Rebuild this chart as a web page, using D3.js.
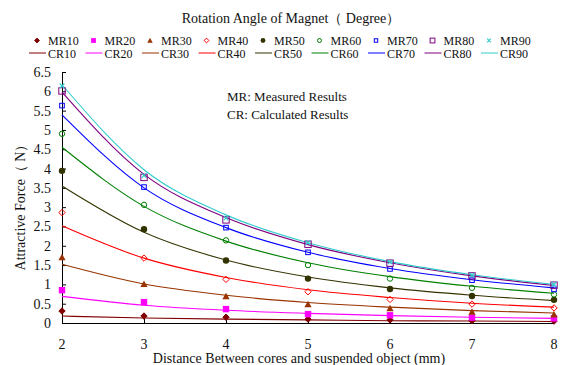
<!DOCTYPE html>
<html>
<head>
<meta charset="utf-8">
<script src="https://cdn.jsdelivr.net/npm/d3@7"></script>
<style>
body { margin: 0; background: #fff; }
svg text { font-family: "Liberation Serif", "Times New Roman", Times, serif; fill: #111; }
</style>
</head>
<body>
<div id="chart"></div>
<script>
var width = 562;
var height = 365;
var margin = { top: 72, right: 8, bottom: 42, left: 62 };

// distances (mm)
var distances = [2, 3, 4, 5, 6, 7, 8];
var angles = ["10", "20", "30", "40", "50", "60", "70", "80", "90"];
var colors = ["#800000", "#ff00ff", "#993300", "#ff0000", "#333300", "#008000", "#0000ff", "#800080", "#33cccc"];
var markerShapes = ["diamond", "square", "triangle", "diamondOpen", "circle", "circleOpen", "squareOpen", "squareOpenBig", "cross"];

// measured results
var mr10 = [0.31, 0.18, 0.15, 0.10, 0.08, 0.06, 0.05];
var mr20 = [0.85, 0.54, 0.36, 0.23, 0.20, 0.14, 0.12];
var mr30 = [1.70, 1.01, 0.69, 0.48, 0.38, 0.29, 0.22];
var mr40 = [2.86, 1.68, 1.13, 0.81, 0.61, 0.49, 0.39];
var mr50 = [3.94, 2.43, 1.62, 1.15, 0.88, 0.70, 0.60];
var mr60 = [4.90, 3.06, 2.14, 1.50, 1.15, 0.91, 0.74];
var mr70 = [5.63, 3.52, 2.47, 1.83, 1.40, 1.11, 0.87];
var mr80 = [6.01, 3.77, 2.67, 2.04, 1.55, 1.22, 0.98];
var mr90 = [6.14, 3.82, 2.72, 2.08, 1.58, 1.24, 1.00];

// calculated results
var cr10 = [0.18, 0.13, 0.10, 0.08, 0.06, 0.05, 0.04];
var cr20 = [0.69, 0.46, 0.33, 0.25, 0.19, 0.15, 0.12];
var cr30 = [1.52, 1.01, 0.72, 0.53, 0.41, 0.32, 0.26];
var cr40 = [2.52, 1.68, 1.18, 0.86, 0.66, 0.51, 0.41];
var cr50 = [3.55, 2.35, 1.63, 1.19, 0.91, 0.72, 0.58];
var cr60 = [4.55, 3.02, 2.12, 1.56, 1.20, 0.95, 0.77];
var cr70 = [5.39, 3.50, 2.47, 1.83, 1.41, 1.12, 0.91];
var cr80 = [5.98, 3.85, 2.73, 2.03, 1.56, 1.22, 0.97];
var cr90 = [6.17, 3.97, 2.80, 2.08, 1.59, 1.25, 1.00];

var measured = [mr10, mr20, mr30, mr40, mr50, mr60, mr70, mr80, mr90];
var calculated = [cr10, cr20, cr30, cr40, cr50, cr60, cr70, cr80, cr90];

var yTicks = [0, 0.5, 1, 1.5, 2, 2.5, 3, 3.5, 4, 4.5, 5, 5.5, 6, 6.5];

var x = d3.scaleLinear().domain([2, 8]).range([margin.left, width - margin.right]);
var y = d3.scaleLinear().domain([0, 6.5]).range([height - margin.bottom, margin.top]);

var serif = "'Liberation Serif', 'Times New Roman', serif";

var svg = d3.select("#chart").append("svg")
    .attr("width", width)
    .attr("height", height)
    .attr("font-family", serif);

// title
svg.append("text")
    .attr("x", 291)
    .attr("y", 23)
    .attr("text-anchor", "middle")
    .attr("font-family", serif)
    .style("font-size", "14px")
    .text("Rotation Angle of Magnet（ Degree）");

function drawMarker(g, shape, color, cx, cy, k) {
    k = k || 1;
    var s;
    if (shape == "diamond" || shape == "diamondOpen") {
        s = 3.2 * k;
        g.append("path")
            .attr("d", "M" + cx + "," + (cy - s) + "L" + (cx + s) + "," + cy + "L" + cx + "," + (cy + s) + "L" + (cx - s) + "," + cy + "Z")
            .attr("fill", shape == "diamond" ? color : "none")
            .attr("stroke", color).attr("stroke-width", 1);
    } else if (shape == "square") {
        s = 3.2 * k;
        g.append("rect").attr("x", cx - s).attr("y", cy - s).attr("width", 2 * s).attr("height", 2 * s)
            .attr("fill", color);
    } else if (shape == "squareOpen") {
        s = 2.3 * k;
        g.append("rect").attr("x", cx - s).attr("y", cy - s).attr("width", 2 * s).attr("height", 2 * s)
            .attr("fill", "none").attr("stroke", color).attr("stroke-width", 1);
    } else if (shape == "squareOpenBig") {
        s = 3.2 * k;
        g.append("rect").attr("x", cx - s).attr("y", cy - s).attr("width", 2 * s).attr("height", 2 * s)
            .attr("fill", "none").attr("stroke", color).attr("stroke-width", 1);
    } else if (shape == "triangle") {
        s = 3.6 * k;
        g.append("path")
            .attr("d", "M" + cx + "," + (cy - s) + "L" + (cx + s) + "," + (cy + s * 0.8) + "L" + (cx - s) + "," + (cy + s * 0.8) + "Z")
            .attr("fill", color);
    } else if (shape == "circle") {
        g.append("circle").attr("cx", cx).attr("cy", cy).attr("r", 3.2 * k).attr("fill", color);
    } else if (shape == "circleOpen") {
        g.append("circle").attr("cx", cx).attr("cy", cy).attr("r", 2.7 * k)
            .attr("fill", "none").attr("stroke", color).attr("stroke-width", 1);
    } else if (shape == "cross") {
        s = 2.4 * k;
        g.append("path")
            .attr("d", "M" + (cx - s) + "," + (cy - s) + "L" + (cx + s) + "," + (cy + s) + "M" + (cx - s) + "," + (cy + s) + "L" + (cx + s) + "," + (cy - s))
            .attr("stroke", color).attr("stroke-width", 1.2);
    }
}

// legend
var legend = svg.append("g");
angles.forEach(function (a, i) {
    var tx = 48 + i * 56.5;
    drawMarker(legend, markerShapes[i], colors[i], tx - 11, 40.5, 0.75);
    legend.append("text").attr("x", tx).attr("y", 44.5).attr("font-family", serif).style("font-size", "12px").text("MR" + a);
    legend.append("line")
        .attr("x1", tx - 19).attr("x2", tx - 2).attr("y1", 53).attr("y2", 53)
        .attr("stroke", colors[i]).attr("stroke-width", 1);
    legend.append("text").attr("x", tx).attr("y", 57.5).attr("font-family", serif).style("font-size", "12px").text("CR" + a);
});

// annotation
svg.append("text").attr("x", 227).attr("y", 101).attr("font-family", serif).style("font-size", "13px").text("MR: Measured Results");
svg.append("text").attr("x", 227).attr("y", 119).attr("font-family", serif).style("font-size", "13px").text("CR: Calculated Results");

// axes
var yAxis = svg.append("g")
    .attr("transform", "translate(" + margin.left + ",0)")
    .call(d3.axisRight(y).tickValues(yTicks).tickSize(4).tickFormat(d3.format("")));
yAxis.selectAll("text").remove();

svg.selectAll("text.yrule")
    .data(yTicks)
    .enter().append("text")
    .attr("class", "yrule")
    .attr("x", margin.left - 11)
    .attr("y", function (d) { return y(d) + 5; })
    .attr("text-anchor", "end")
    .attr("font-family", serif)
    .style("font-size", "14px")
    .text(function (d) { return d; });

var xAxis = svg.append("g")
    .attr("transform", "translate(0," + (height - margin.bottom) + ")")
    .call(d3.axisTop(x).tickValues(distances).tickSize(4));
xAxis.selectAll("text").remove();

svg.selectAll("text.xrule")
    .data(distances)
    .enter().append("text")
    .attr("class", "xrule")
    .attr("x", x)
    .attr("y", 349)
    .attr("text-anchor", "middle")
    .attr("font-family", serif)
    .style("font-size", "14px")
    .text(String);

svg.append("text")
    .attr("x", 299)
    .attr("y", 363)
    .attr("text-anchor", "middle")
    .attr("font-family", serif)
    .style("font-size", "14px")
    .text("Distance Between cores and suspended object (mm)");

svg.append("text")
    .attr("transform", "translate(25,204) rotate(-90)")
    .attr("text-anchor", "middle")
    .attr("font-family", serif)
    .style("font-size", "14px")
    .text("Attractive Force（ N）");

// calculated curves
var line = d3.line()
    .x(function (d, i) { return x(distances[i]); })
    .y(function (d) { return y(d); })
    .curve(d3.curveMonotoneX);

calculated.forEach(function (s, i) {
    svg.append("path")
        .datum(s)
        .attr("d", line)
        .attr("fill", "none")
        .attr("stroke", colors[i])
        .attr("stroke-width", 1.1);
});

// measured markers
var marks = svg.append("g");
measured.forEach(function (s, i) {
    s.forEach(function (v, j) {
        drawMarker(marks, markerShapes[i], colors[i], x(distances[j]), y(v));
    });
});
</script>
</body>
</html>
